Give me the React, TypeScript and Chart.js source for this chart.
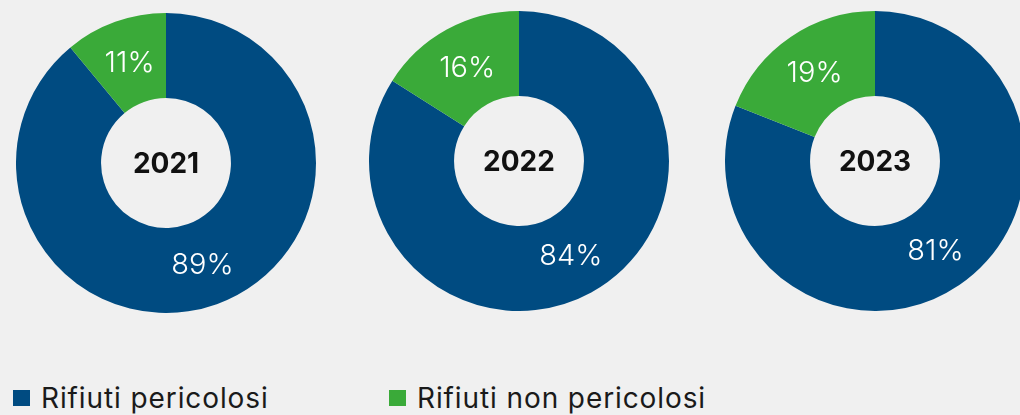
import React, { useEffect, useRef } from "react";
import { Chart, registerables } from "chart.js";

Chart.register(...registerables);

const years = ["2021", "2022", "2023"];
const categories = ["Rifiuti pericolosi", "Rifiuti non pericolosi"];
const pericolosi = [89, 84, 81];
const nonPericolosi = [11, 16, 19];
const colors = ["#004b81", "#3aaa39"];

const BG = "#f0f0f0";
const FONT = "Inter, 'Open Sans', sans-serif";

const labelsPlugin = {
  id: "donutLabels",
  afterDatasetsDraw(chart: any) {
    const ctx = chart.ctx;
    const meta = chart.getDatasetMeta(0);
    const ds = chart.data.datasets[0];
    ctx.save();
    ctx.fillStyle = "#ffffff";
    ctx.font = `300 29px ${FONT}`;
    ctx.textAlign = "center";
    ctx.textBaseline = "middle";
    meta.data.forEach((arc: any, i: number) => {
      const p = arc.tooltipPosition();
      ctx.fillText(`${ds.data[i]}%`, p.x, p.y + 1);
    });
    const a = meta.data[0];
    ctx.fillStyle = "#111111";
    ctx.font = `700 28px ${FONT}`;
    ctx.fillText(chart.options.plugins.centerText.text, a.x, a.y + 2);
    ctx.restore();
  },
};

function Donut({ idx, left, top }: { idx: number; left: number; top: number }) {
  const ref = useRef<HTMLCanvasElement>(null);
  useEffect(() => {
    const chart = new Chart(ref.current!, {
      type: "doughnut",
      data: {
        labels: categories,
        datasets: [
          {
            label: years[idx],
            data: [pericolosi[idx], nonPericolosi[idx]],
            backgroundColor: colors,
            borderWidth: 0,
          },
        ],
      },
      options: {
        animation: false,
        responsive: true,
        maintainAspectRatio: false,
        cutout: "43.3%",
        layout: { padding: 0 },
        plugins: {
          legend: { display: false },
          tooltip: { enabled: false },
          centerText: { text: years[idx] },
        } as any,
      },
      plugins: [labelsPlugin],
    });
    return () => chart.destroy();
  }, [idx]);
  return (
    <div style={{ position: "absolute", left, top, width: 300, height: 300 }}>
      <canvas ref={ref} />
    </div>
  );
}

const centers = [
  [166.3, 163],
  [518.7, 160.5],
  [874.7, 160.5],
];

export default function App() {
  return (
    <div
      style={{
        position: "fixed",
        left: 0,
        top: 0,
        width: 1020,
        height: 415,
        background: BG,
        overflow: "hidden",
        fontFamily: FONT,
      }}
    >
      {centers.map((c, i) => (
        <Donut key={i} idx={i} left={c[0] - 150} top={c[1] - 150} />
      ))}
      {categories.map((cat, i) => (
        <div
          key={cat}
          style={{
            position: "absolute",
            left: i === 0 ? 13 : 389,
            top: 383,
            height: 30,
            display: "flex",
            alignItems: "center",
            whiteSpace: "nowrap",
          }}
        >
          <span
            style={{
              display: "inline-block",
              width: 17,
              height: 16,
              background: colors[i],
              marginRight: 11,
            }}
          />
          <span style={{ fontSize: 28, color: "#1a1a1a", fontWeight: 400, letterSpacing: 0.9 }}>{cat}</span>
        </div>
      ))}
    </div>
  );
}
